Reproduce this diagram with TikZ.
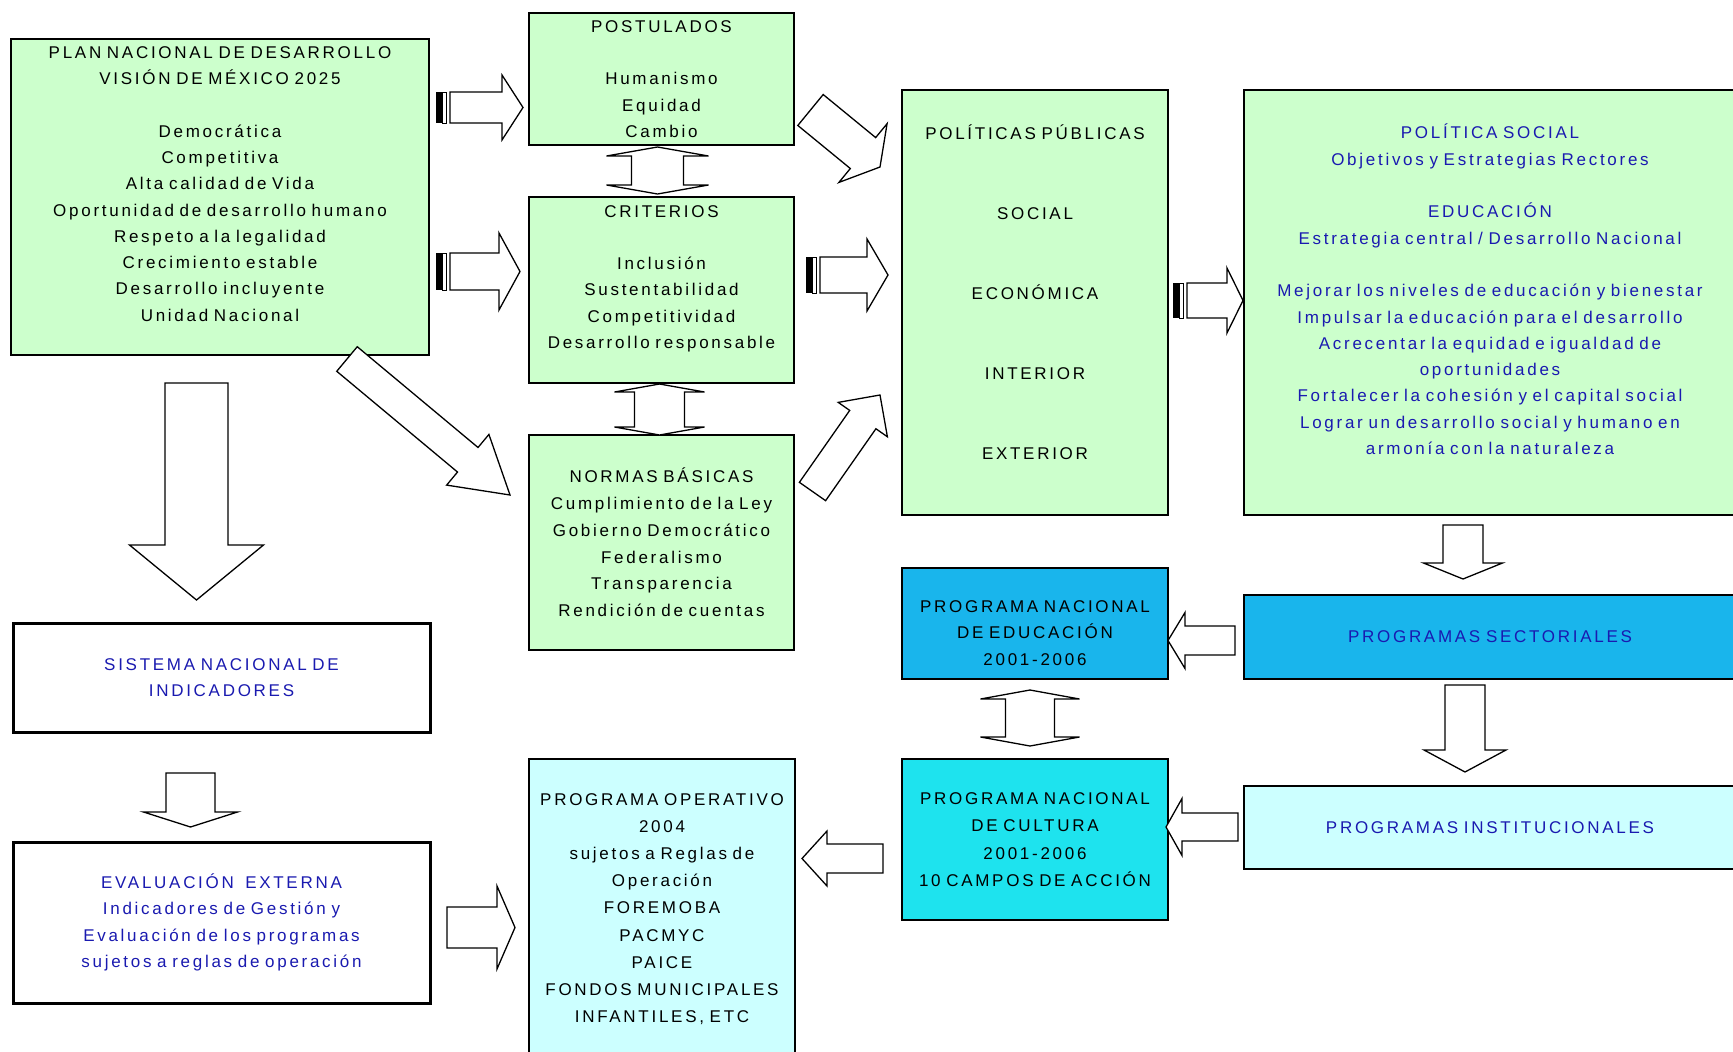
\documentclass[tikz,border=0pt]{standalone}
\usepackage{fontspec}
\setmainfont{Liberation Sans}[LetterSpace=16, WordSpace=2]
\usetikzlibrary{calc}

\definecolor{boxgreen}{HTML}{CCFFCC}
\definecolor{boxsky}{HTML}{19B5EC}
\definecolor{boxcyan}{HTML}{1EE3EE}
\definecolor{boxpale}{HTML}{CCFFFF}
\definecolor{textblue}{HTML}{1A1AB0}

% block arrow: tail centre, tip, half shaft, half head, head length
\newcommand{\barrow}[5]{%
  \coordinate (ba) at ($(#2)!#5!(#1)$);
  \draw[arrowbody] ($(#1)!#3!90:(#2)$) -- ($(ba)!#3!90:(#2)$) -- ($(ba)!#4!90:(#2)$)
    -- (#2) -- ($(ba)!#4!-90:(#2)$) -- ($(ba)!#3!-90:(#2)$) -- ($(#1)!#3!-90:(#2)$) -- cycle;
}
% up-down arrow: top tip, bottom tip, half shaft, half head, head length
\newcommand{\udarrow}[5]{%
  \draw[arrowbody] (#1) -- ++(#4,#5) -- ++({#3-#4},0) -- ($(#2)+(#3,-#5)$) -- ++({#4-#3},0)
    -- (#2) -- ++(-#4,-#5) -- ++({#4-#3},0) -- ($(#1)+(-#3,#5)$) -- ++({#3-#4},0) -- cycle;
}
% stripes at the tail of a right arrow
\newcommand{\stripes}[2]{%
  \fill ([shift={(-14,-#2)}]#1) rectangle ([shift={(-8,#2)}]#1);
  \draw[line width=1pt] ([shift={(-8,-#2)}]#1) rectangle ([shift={(-4,#2)}]#1);
}

\begin{document}
\begin{tikzpicture}[x=1pt, y=-1pt,
    box/.style={draw, line width=1.6pt, inner sep=0pt, outer sep=0pt, align=center,
      anchor=north west, font=\fontsize{17}{26.3}\selectfont},
    greenbox/.style={box, fill=boxgreen},
    skybox/.style={box, fill=boxsky},
    cyanbox/.style={box, fill=boxcyan},
    palebox/.style={box, fill=boxpale},
    framebox/.style={box, fill=white, line width=3pt, text=textblue},
    arrowbody/.style={draw, fill=white, line width=1.3pt, line join=miter}]

  \fill[white] (0,0) rectangle (1733,1052);
  \useasboundingbox (0,0) rectangle (1733,1052);

  % Plan and its principles
  \node[greenbox, text width=418pt, minimum height=316pt] (plan) at (11,39)
    {PLAN NACIONAL DE DESARROLLO\\VISIÓN DE MÉXICO 2025\\[26.3pt]Democrática\\Competitiva\\Alta calidad de Vida\\Oportunidad de desarrollo humano\\Respeto a la legalidad\\Crecimiento estable\\Desarrollo incluyente\\Unidad Nacional\\\mbox{}};
  \node[greenbox, text width=265pt, minimum height=132pt] (post) at (529,13)
    {POSTULADOS\\[26.3pt]Humanismo\\Equidad\\Cambio};
  \node[greenbox, text width=265pt, minimum height=186pt] (crit) at (529,197)
    {CRITERIOS\\[26.3pt]Inclusión\\Sustentabilidad\\Competitividad\\Desarrollo responsable\\\mbox{}};
  \node[greenbox, text width=265pt, minimum height=215pt, font=\fontsize{17}{26.8}\selectfont] (norm) at (529,435)
    {NORMAS BÁSICAS\\Cumplimiento de la Ley\\Gobierno Democrático\\Federalismo\\Transparencia\\Rendición de cuentas};

  % Public policies
  \node[greenbox, text width=266pt, minimum height=425pt] (pol) at (902,90)
    {POLÍTICAS PÚBLICAS\\[53.7pt]SOCIAL\\[53.7pt]ECONÓMICA\\[53.7pt]INTERIOR\\[53.7pt]EXTERIOR\\[-5.3pt]\mbox{}};
  \node[greenbox, text width=492pt, minimum height=425pt, text=textblue] (soc) at (1244,90)
    {POLÍTICA SOCIAL\\Objetivos y Estrategias Rectores\\[26.3pt]EDUCACIÓN\\Estrategia central / Desarrollo Nacional\\[26.3pt]Mejorar los niveles de educación y bienestar\\Impulsar la educación para el desarrollo\\Acrecentar la equidad e igualdad de\\oportunidades\\Fortalecer la cohesión y el capital social\\Lograr un desarrollo social y humano en\\armonía con la naturaleza\\\mbox{}};

  % Programs
  \node[skybox, text width=266pt, minimum height=111pt] (edu) at (902,568)
    {\mbox{}\\[4.7pt]PROGRAMA NACIONAL\\DE EDUCACIÓN\\2001-2006};
  \node[skybox, text width=492pt, minimum height=84pt, text=textblue] (sect) at (1244,595)
    {PROGRAMAS SECTORIALES};
  \node[cyanbox, text width=266pt, minimum height=161pt, font=\fontsize{17}{27.5}\selectfont] (cult) at (902,759)
    {PROGRAMA NACIONAL\\DE CULTURA\\2001-2006\\10 CAMPOS DE ACCIÓN};
  \node[palebox, text width=492pt, minimum height=83pt, text=textblue] (inst) at (1244,786)
    {PROGRAMAS INSTITUCIONALES};
  \node[palebox, text width=266pt, minimum height=300pt, font=\fontsize{17}{27.2}\selectfont] (oper) at (529,759)
    {PROGRAMA OPERATIVO\\2004\\sujetos a Reglas de\\Operación\\FOREMOBA\\PACMYC\\PAICE\\FONDOS MUNICIPALES\\INFANTILES, ETC};

  % Indicators and evaluation
  \node[framebox, text width=417pt, minimum height=109pt] (sis) at (13,623)
    {SISTEMA NACIONAL DE\\INDICADORES};
  \node[framebox, text width=417pt, minimum height=161pt] (eval) at (13,842)
    {EVALUACIÓN \ EXTERNA\\Indicadores de Gestión y\\Evaluación de los programas\\sujetos a reglas de operación};

  % Arrow ends
  \coordinate (tail1) at (450,107.5);  \coordinate (tip1) at (523,107.5);
  \coordinate (tail2) at (450,271.5);  \coordinate (tip2) at (520,271.5);
  \coordinate (tail3) at (810.5,110);  \coordinate (tip3) at (880,167);
  \coordinate (tail4) at (820,275);    \coordinate (tip4) at (888,275);
  \coordinate (tail5) at (812.5,491.5);\coordinate (tip5) at (880,395);
  \coordinate (tail6) at (347,359);    \coordinate (tip6) at (510,495);
  \coordinate (tail7) at (1187,300.5); \coordinate (tip7) at (1243,300.5);
  \coordinate (tail10) at (196.5,383); \coordinate (tip10) at (196.5,600);
  \coordinate (tail11) at (190.5,773); \coordinate (tip11) at (190.5,827);
  \coordinate (tail12) at (447,927.5); \coordinate (tip12) at (515,927.5);
  \coordinate (tail13) at (883,858.5); \coordinate (tip13) at (802,858.5);
  \coordinate (tail14) at (1463,525);  \coordinate (tip14) at (1463,579);
  \coordinate (tail15) at (1235,640.5);\coordinate (tip15) at (1168,640.5);
  \coordinate (tail17) at (1465,685);  \coordinate (tip17) at (1465,772);
  \coordinate (tail18) at (1238,827);  \coordinate (tip18) at (1166,827);

  % Block arrows
  \stripes{tail1}{15.5}
  \barrow{tail1}{tip1}{15.5pt}{32.5pt}{21pt}
  \stripes{tail2}{18.5}
  \barrow{tail2}{tip2}{18.5pt}{38.5pt}{21pt}
  \barrow{tail3}{tip3}{20pt}{38pt}{22pt}
  \stripes{tail4}{18}
  \barrow{tail4}{tip4}{18pt}{36pt}{21pt}
  \barrow{tail5}{tip5}{16pt}{30pt}{30pt}
  \barrow{tail6}{tip6}{16pt}{33pt}{55pt}
  \stripes{tail7}{17.5}
  \barrow{tail7}{tip7}{17.5pt}{32.5pt}{16pt}
  \barrow{tail10}{tip10}{31.5pt}{67pt}{55pt}
  \barrow{tail11}{tip11}{24.5pt}{47pt}{15pt}
  \barrow{tail12}{tip12}{20.5pt}{41.5pt}{18pt}
  \barrow{tail13}{tip13}{14.5pt}{27.5pt}{25pt}
  \barrow{tail14}{tip14}{20pt}{39.5pt}{16pt}
  \barrow{tail15}{tip15}{14.5pt}{28pt}{17pt}
  \barrow{tail17}{tip17}{20pt}{41pt}{22pt}
  \barrow{tail18}{tip18}{14pt}{28.5pt}{16pt}

  % Two-way arrows
  \udarrow{$(post.south)+(-4,2)$}{$(crit.north)+(-4,-3)$}{26}{51}{9}
  \udarrow{$(crit.south)+(-2,1)$}{$(norm.north)+(-2,0)$}{25}{45}{8}
  \udarrow{$(edu.south)+(-5,11)$}{$(cult.north)+(-5,-13)$}{24.5}{49.5}{9}

\end{tikzpicture}
\end{document}
